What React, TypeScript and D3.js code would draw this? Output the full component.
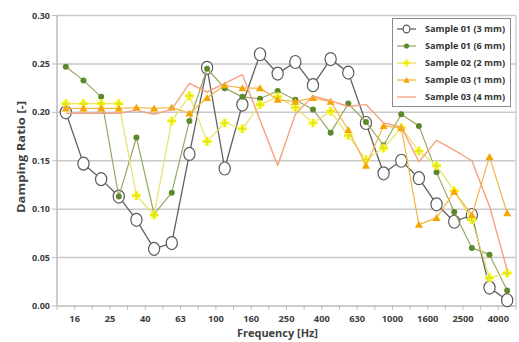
import React from "react";
import * as d3 from "d3";

const freqs = ["12.5","16","20","25","31.5","40","50","63","80","100","125","160","200","250","315","400","500","630","800","1000","1250","1600","2000","2500","3150","4000"];
const tickLabels = ["16","25","40","63","100","160","250","400","630","1000","1600","2500","4000"];
const yTicks = [0, 0.05, 0.1, 0.15, 0.2, 0.25, 0.3];

const s01_3mm = [0.200,0.147,0.131,0.113,0.089,0.059,0.065,0.157,0.246,0.142,0.208,0.260,0.240,0.252,0.228,0.255,0.241,0.189,0.137,0.150,0.132,0.105,0.087,0.094,0.019,0.006];
const s01_6mm = [0.247,0.233,0.216,0.113,0.174,0.095,0.117,0.191,0.245,0.225,0.216,0.214,0.222,0.213,0.203,0.179,0.209,0.190,0.166,0.198,0.186,0.138,0.097,0.060,0.053,0.016];
const s02_2mm = [0.209,0.209,0.209,0.209,0.114,0.094,0.191,0.217,0.170,0.189,0.183,0.208,0.216,0.205,0.189,0.201,0.176,0.151,0.163,0.184,0.160,0.145,0.119,0.089,0.029,0.034];
const s03_1mm = [0.204,0.204,0.204,0.204,0.205,0.204,0.205,0.199,0.215,0.228,0.225,0.225,0.213,0.211,0.215,0.211,0.182,0.145,0.186,0.184,0.084,0.091,0.118,0.094,0.154,0.096];
const s03_4mm = [0.199,0.199,0.199,0.199,0.202,0.198,0.203,0.230,0.221,0.230,0.239,0.192,0.145,0.198,0.217,0.212,0.206,0.208,0.189,0.185,0.149,0.171,0.161,0.150,0.103,0.037];

const seriesNames = ["Sample 01 (3 mm)","Sample 01 (6 mm)","Sample 02 (2 mm)","Sample 03 (1 mm)","Sample 03 (4 mm)"];

const W = 519, H = 342;
const L = 57, R = 516, T = 15.5, B = 306;
const FONT = "'Open Sans', 'DejaVu Sans', sans-serif";
const TXT = "#404040";

const x = d3.scaleBand<string>().domain(freqs).range([L, R]).paddingInner(0).paddingOuter(0);
const y = d3.scaleLinear().domain([0, 0.3]).range([B, T]);
const cx = (i: number) => (x(freqs[i]) as number) + x.bandwidth() / 2;

const lineGen = d3.line<number>().x((_, i) => cx(i)).y((d) => y(d));

const plusPath = "M-1.3,-4.3h2.6v3h3v2.6h-3v3h-2.6v-3h-3v-2.6h3z";
const triPath = d3.symbol().type(d3.symbolTriangle).size(28)() as string;

type Marker = "circle" | "dot" | "plus" | "tri" | "none";
const series: { name: string; data: number[]; color: string; width: number; marker: Marker }[] = [
  { name: seriesNames[0], data: s01_3mm, color: "#606060", width: 1.3, marker: "circle" },
  { name: seriesNames[1], data: s01_6mm, color: "#97a863", width: 1.2, marker: "dot" },
  { name: seriesNames[2], data: s02_2mm, color: "#e9df6a", width: 1.2, marker: "plus" },
  { name: seriesNames[3], data: s03_1mm, color: "#f5b443", width: 1.2, marker: "tri" },
  { name: seriesNames[4], data: s03_4mm, color: "#f5a27c", width: 1.4, marker: "none" },
];

function MarkerShape({ kind, px, py, small }: { kind: Marker; px: number; py: number; small?: boolean }) {
  const s = small ? 0.6 : 1;
  if (kind === "circle")
    return <ellipse cx={px} cy={py} rx={5.6 * s} ry={6.5 * s} fill="#fff" stroke="#5a5a5a" strokeWidth={1.2} />;
  if (kind === "dot") return <circle cx={px} cy={py} r={3 * (small ? 0.85 : 1)} fill="#5c8a2b" />;
  if (kind === "plus")
    return (
      <g transform={`translate(${px},${py}) scale(${small ? 0.8 : 1})`}>
        <circle r={4.6} fill="#ffff9a" opacity={0.65} />
        <path d={plusPath} fill="#eeee00" />
        <circle r={1} fill="#c9d86a" />
      </g>
    );
  if (kind === "tri")
    return <path d={triPath} transform={`translate(${px},${py + 0.8}) scale(${small ? 0.8 : 1})`} fill="#f5a600" />;
  return null;
}

export default function App() {
  const legendY = [29, 46, 63, 80, 97];
  return (
    <svg width={W} height={H} style={{ position: "absolute", left: 0, top: 0, background: "#fff" }} fontFamily={FONT}>
      {/* grid */}
      {yTicks.filter((t) => t > 0).map((t) => (
        <line key={t} x1={L} x2={R} y1={y(t)} y2={y(t)} stroke="#c9c9c9" strokeWidth={1.5} />
      ))}
      {/* frame */}
      <line x1={R} x2={R} y1={T} y2={B} stroke="#d0d0d0" strokeWidth={1.5} />
      <line x1={L} x2={L} y1={T} y2={B} stroke="#bdbdbd" strokeWidth={1.5} />
      <line x1={L} x2={R} y1={B} y2={B} stroke="#bdbdbd" strokeWidth={1.5} />
      {/* y ticks */}
      {yTicks.map((t) => (
        <g key={t}>
          <line x1={L - 5} x2={L} y1={y(t)} y2={y(t)} stroke="#bdbdbd" strokeWidth={1} />
          <text x={50} y={y(t)} dy="0.35em" textAnchor="end" fontSize={9} fontWeight={700} fill={TXT}>
            {t.toFixed(2)}
          </text>
        </g>
      ))}
      {/* x ticks */}
      {freqs.map((f) => (
        <line key={f} x1={x(f) as number} x2={x(f) as number} y1={B} y2={B + 4} stroke="#bdbdbd" strokeWidth={1} />
      ))}
      <line x1={R} x2={R} y1={B} y2={B + 4} stroke="#bdbdbd" strokeWidth={1} />
      {tickLabels.map((l) => (
        <text key={l} x={x(l) as number} y={322} textAnchor="middle" fontSize={9.3} fontWeight={700} fill={TXT}>
          {l}
        </text>
      ))}
      {/* axis titles */}
      <text x={277.5} y={337} textAnchor="middle" fontSize={10} fontWeight={700} fill={TXT} textLength={81} lengthAdjust="spacingAndGlyphs">
        Frequency [Hz]
      </text>
      <text transform="translate(25,157) rotate(-90)" textAnchor="middle" fontSize={11} fontWeight={700} fill={TXT} textLength={112} lengthAdjust="spacingAndGlyphs">
        Damping Ratio [-]
      </text>
      {/* series */}
      {series.map((s) => (
        <g key={s.name}>
          <path d={lineGen(s.data) as string} fill="none" stroke={s.color} strokeWidth={s.width} strokeLinejoin="round" />
          {s.data.map((v, i) => (
            <MarkerShape key={i} kind={s.marker} px={cx(i)} py={y(v)} />
          ))}
        </g>
      ))}
      {/* legend */}
      <rect x={392.5} y={18.5} width={118} height={88} fill="#fff" stroke="#8c8c8c" strokeWidth={1} />
      {series.map((s, k) => (
        <g key={s.name}>
          <line x1={397} x2={416} y1={legendY[k]} y2={legendY[k]} stroke={s.color} strokeWidth={1.3} />
          <MarkerShape kind={s.marker} px={406.5} py={legendY[k]} small />
          <text x={425} y={legendY[k]} dy="0.35em" fontSize={8.8} fontWeight={700} fill="#333" textLength={80} lengthAdjust="spacingAndGlyphs">
            {s.name}
          </text>
        </g>
      ))}
    </svg>
  );
}
